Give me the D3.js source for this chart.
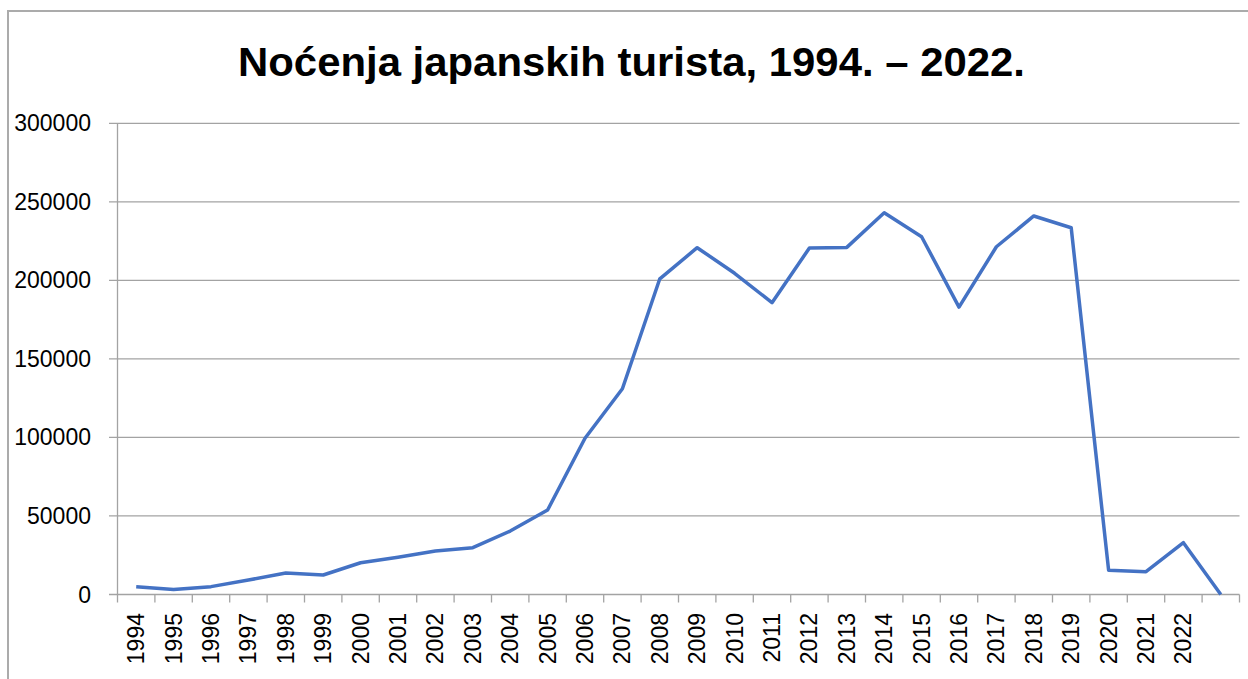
<!doctype html>
<html>
<head>
    <meta charset="UTF-8">
    <script src="https://d3js.org/d3.v7.min.js"></script>
    <title></title>
</head>
<body style="margin:0;background:#fff">

<style>
    text { font-family: "Liberation Sans", Arial, sans-serif; fill: #000; }
</style>

<div id="graph"></div>

<script>
    // years on the x axis (last slot has no label in the original)
    var years = ["1994","1995","1996","1997","1998","1999","2000","2001","2002","2003",
                 "2004","2005","2006","2007","2008","2009","2010","2011","2012","2013",
                 "2014","2015","2016","2017","2018","2019","2020","2021","2022",""];
    var nights = [5000, 3200, 5000, 9200, 13700, 12400, 20200, 23700, 27700, 29800,
                  40400, 53800, 99500, 131000, 201000, 220800, 204500, 185800, 220600, 221000,
                  243000, 227800, 183000, 221400, 241000, 233500, 15500, 14500, 33000, 0];
    var yTicks = [0, 50000, 100000, 150000, 200000, 250000, 300000];
    var title = "Noćenja japanskih turista, 1994. – 2022.";

    var w = 1248, h = 679;
    var svg = d3.select("#graph").append("svg")
            .attr("width", w)
            .attr("height", h);

    // chart frame (only top and left edges are visible)
    svg.append("path")
            .attr("d", "M8,679 L8,11 L1248,11")
            .attr("fill", "none")
            .attr("stroke", "#ababab")
            .attr("stroke-width", 2);

    var x = d3.scaleBand().domain(years).range([117.5, 1239.5]);
    var y = d3.scaleLinear().domain([0, 300000]).range([594.5, 123.3]);

    // gridlines + y labels
    svg.selectAll(".grid")
            .data(yTicks)
            .enter()
            .append("line")
            .attr("x1", 109)
            .attr("x2", 1239.5)
            .attr("y1", function(d) { return y(d); })
            .attr("y2", function(d) { return y(d); })
            .attr("stroke", "#a3a3a3")
            .attr("stroke-width", 1.3);

    svg.selectAll(".ylab")
            .data(yTicks)
            .enter()
            .append("text")
            .attr("x", 91)
            .attr("y", function(d) { return y(d); })
            .attr("dy", "0.35em")
            .attr("text-anchor", "end")
            .style("font-size", "23px")
            .text(function(d) { return d; });

    // y axis line
    svg.append("line")
            .attr("x1", 117.5).attr("x2", 117.5)
            .attr("y1", y(300000)).attr("y2", y(0))
            .attr("stroke", "#a3a3a3")
            .attr("stroke-width", 1.3);

    // x ticks at band edges
    var edges = years.map(function(d) { return x(d); });
    edges.push(x.range()[1]);
    svg.selectAll(".xtick")
            .data(edges)
            .enter()
            .append("line")
            .attr("x1", function(d) { return d; })
            .attr("x2", function(d) { return d; })
            .attr("y1", y(0))
            .attr("y2", y(0) + 8)
            .attr("stroke", "#a3a3a3")
            .attr("stroke-width", 1.3);

    svg.selectAll(".xlab")
            .data(years)
            .enter()
            .append("text")
            .attr("transform", function(d) {
                return "translate(" + (x(d) + x.bandwidth() / 2) + "," + 613 + ") rotate(-90)";
            })
            .attr("dy", "0.35em")
            .attr("text-anchor", "end")
            .style("font-size", "23px")
            .text(function(d) { return d; });

    // the line
    var line = d3.line()
            .x(function(d, i) { return x(years[i]) + x.bandwidth() / 2; })
            .y(function(d) { return y(d); });

    svg.append("path")
            .datum(nights)
            .attr("d", line)
            .attr("fill", "none")
            .attr("stroke", "#4472c4")
            .attr("stroke-width", 3.5)
            .attr("stroke-linejoin", "round");

    // title
    svg.append("text")
            .attr("x", 238)
            .attr("y", 76)
            .attr("textLength", 787)
            .attr("lengthAdjust", "spacingAndGlyphs")
            .style("font-size", "40px")
            .style("font-weight", "bold")
            .text(title);
</script>

</body>
</html>
